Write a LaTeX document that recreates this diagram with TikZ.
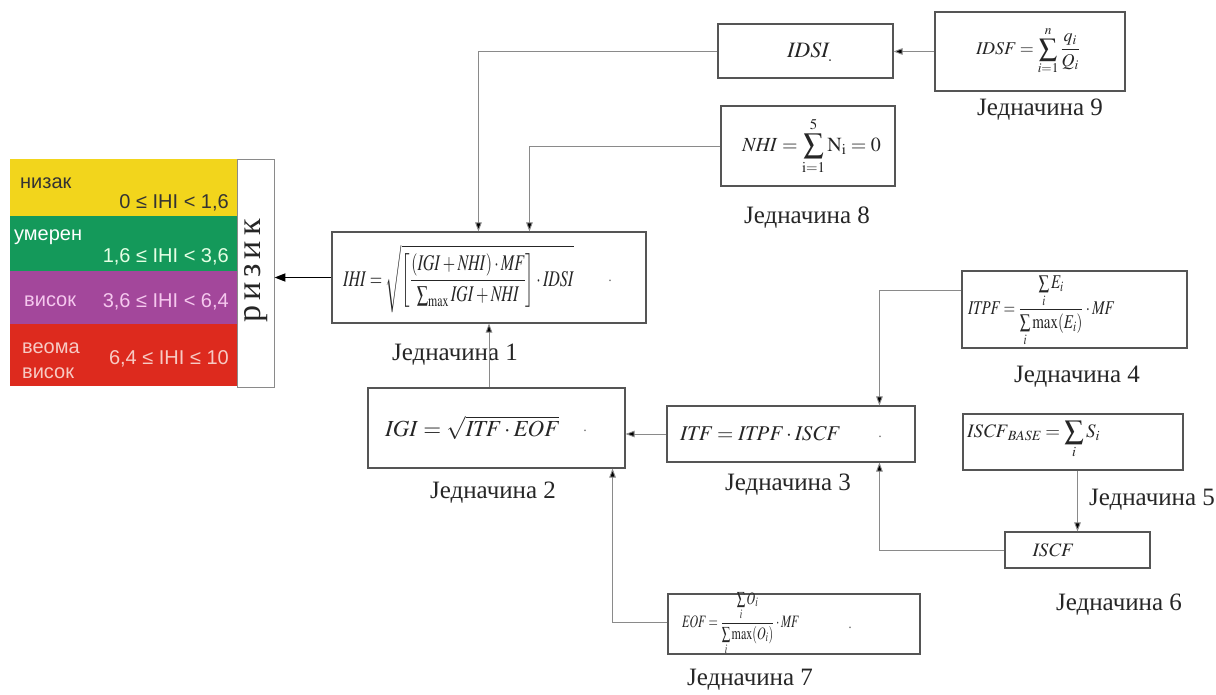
\documentclass[tikz,border=0pt]{standalone}
\usepackage{amsmath}
\usepackage{graphicx}
\usepackage{mathptmx}
\usepackage[no-math]{fontspec}
\setmainfont{Liberation Serif}
\newfontfamily\tabfont{Liberation Sans}
\usetikzlibrary{arrows.meta,calc}

\definecolor{boxgray}{HTML}{555555}
\definecolor{linegray}{HTML}{8A8A8A}
\definecolor{lowyellow}{HTML}{F2D51C}
\definecolor{midgreen}{HTML}{14995A}
\definecolor{highpurple}{HTML}{A3479B}
\definecolor{topred}{HTML}{DD2A1E}
\definecolor{pinktext}{HTML}{F5C8EE}
\definecolor{redtext}{HTML}{F7CAC4}

\newcommand{\fsz}[1]{\fontsize{#1}{#1}\selectfont}
\newcommand{\vn}[1]{\mathit{#1}}
\newcommand{\tall}[2]{\scalebox{1}[#1]{#2}}

\begin{document}
\begin{tikzpicture}[x=1pt,y=-1pt,
  box/.style={draw=boxgray, line width=1.1pt, inner sep=0pt, rectangle},
  conn/.style={draw=linegray, line width=0.9pt, -{Triangle[length=9pt,width=6.5pt,fill=black]}},
  eqlabel/.style={font=\fsz{25}, text=black!85, inner sep=0pt},
  formula/.style={inner sep=0pt, text=black!85},
  tabtext/.style={font=\tabfont\fsz{20}, inner sep=0pt},
  tinydot/.style={font=\fsz{14}, inner sep=0pt, text=black!60}]

\useasboundingbox (0,0) rectangle (1216,695);
\fill[white] (0,0) rectangle (1216,695);

% ---- risk scale ----
\fill[lowyellow]  (10,159) rectangle (237,216);
\fill[midgreen]   (10,216) rectangle (237,271);
\fill[highpurple] (10,271) rectangle (237,324);
\fill[topred]     (10,324) rectangle (237,386);
\node[draw=linegray, line width=0.9pt, fill=white, minimum width=37pt, minimum height=228pt, inner sep=0pt] (risk) at (255.5,273) {};
\node[rotate=90, font=\fsz{34}, inner sep=0pt, text=black!85] (risklabel) at (256,271) {р\hspace{5pt}и\hspace{5pt}з\hspace{5pt}и\hspace{5pt}к};

\node[tabtext, anchor=west, text=black!80] (lowname) at (20,183) {низак};
\node[tabtext, anchor=east, text=black!80] (lowrange) at (229,203) {0 ≤ IHI < 1,6};
\node[tabtext, anchor=west, text=white] (midname) at (14,237) {умерен};
\node[tabtext, anchor=east, text=white!90!green] (midrange) at (229,257) {1,6 ≤ IHI < 3,6};
\node[tabtext, anchor=west, text=pinktext] (highname) at (24,301) {висок};
\node[tabtext, anchor=east, text=pinktext] (highrange) at (229,302) {3,6 ≤ IHI < 6,4};
\node[tabtext, anchor=west, text=redtext] (topname1) at (22,348) {веома};
\node[tabtext, anchor=west, text=redtext] (topname2) at (22,373) {висок};
\node[tabtext, anchor=east, text=redtext] (toprange) at (229,359) {6,4 ≤ IHI ≤ 10};

% ---- boxes ----
\node[box, minimum width=190pt, minimum height=79pt] (idsf) at (1030,51.5) {};
\node[box, minimum width=175pt, minimum height=54pt] (idsi) at (805.5,51) {};
\node[box, minimum width=174pt, minimum height=80pt] (nhi) at (808,146) {};
\node[box, minimum width=314pt, minimum height=91pt] (ihi) at (489,277.5) {};
\node[box, minimum width=257pt, minimum height=80pt] (igi) at (496.5,428) {};
\node[box, minimum width=248pt, minimum height=56pt] (itf) at (791,434) {};
\node[box, minimum width=225pt, minimum height=77pt] (itpf) at (1074.5,309.5) {};
\node[box, minimum width=220pt, minimum height=56pt] (iscfb) at (1073,442) {};
\node[box, minimum width=145pt, minimum height=36pt] (iscf) at (1077.5,550) {};
\node[box, minimum width=252pt, minimum height=60pt] (eof) at (794,624) {};

% ---- formulas ----
\node[formula, font=\fsz{18}, anchor=west] (idsfeq) at (976,51) {$\vn{IDSF}=\displaystyle\sum_{i=1}^{n}\frac{q_i}{Q_i}$};
\node[formula, font=\fsz{22}] (idsieq) at (810,52) {$\vn{IDSI}_{\!.}$};
\node[formula, font=\fsz{20}, anchor=west] (nhieq) at (742,146) {$\vn{NHI}=\displaystyle\sum_{\mathrm{i}=1}^{5}\mathrm{N_i}=0$};
\node[formula, font=\fsz{16}, anchor=west] (ihieq) at (343,279) {\tall{1.4}{$\vn{IHI}=\sqrt{\left[\dfrac{(\vn{IGI}+\vn{NHI})\cdot \vn{MF}}{\textstyle\sum_{\max}\vn{IGI}+\vn{NHI}}\right]\cdot \vn{IDSI}}$}};
\node[tinydot] (ihidot) at (610,281) {.};
\node[formula, font=\fsz{23}, anchor=west] (igieq) at (385,428) {$\vn{IGI}=\sqrt{\vn{ITF}\cdot \vn{EOF}}$};
\node[tinydot] (igidot) at (585,431) {.};
\node[formula, font=\fsz{21}, anchor=west] (itfeq) at (680,434) {$\vn{ITF}=\vn{ITPF}\cdot \vn{ISCF}$};
\node[tinydot] (itfdot) at (880,437) {.};
\node[formula, font=\fsz{15}, anchor=west] (itpfeq) at (968,311) {\tall{1.3}{$\vn{ITPF}=\dfrac{\sum\limits_i E_i}{\sum\limits_i\max(E_i)}\cdot \vn{MF}$}};
\node[formula, font=\fsz{19}, anchor=west] (iscfbeq) at (967,440) {$\vn{ISCF}_{\vn{BASE}}=\displaystyle\sum_i S_i$};
\node[formula, font=\fsz{19}] (iscfeq) at (1053,550) {$\vn{ISCF}$};
\node[formula, font=\fsz{12}, anchor=west] (eofeq) at (682,624) {\tall{1.45}{$\vn{EOF}=\dfrac{\sum\limits_i O_i}{\sum\limits_i\max(O_i)}\cdot \vn{MF}$}};
\node[tinydot] (eofdot) at (850,628) {.};

% ---- equation labels ----
\node[eqlabel] (lab1) at (455,355) {Једначина 1};
\node[eqlabel] (lab2) at (493,493) {Једначина 2};
\node[eqlabel] (lab3) at (788,485) {Једначина 3};
\node[eqlabel] (lab4) at (1077,377) {Једначина 4};
\node[eqlabel] (lab5) at (1152,500) {Једначина 5};
\node[eqlabel] (lab6) at (1119,605) {Једначина 6};
\node[eqlabel] (lab7) at (750,680) {Једначина 7};
\node[eqlabel] (lab8) at (807,218) {Једначина 8};
\node[eqlabel] (lab9) at (1040,110) {Једначина 9};

% ---- connectors ----
\draw[conn] (idsf.west) -- (idsf.west -| idsi.east);
\draw[conn] (idsi.west) -| ($(ihi.north west)+(147,0)$);
\draw[conn] (nhi.west) -| ($(ihi.north west)+(198,0)$);
\draw[draw=black, line width=1.8pt, -{Triangle[length=11pt,width=8pt]}] (ihi.west) -- (ihi.west -| risk.east);
\draw[conn] (igi.north -| ihi.south) -- (ihi.south);
\draw[conn] (itf.west) -- (itf.west -| igi.east);
\draw[conn] ($(itpf.north west)!0.25!(itpf.south west)$) -| ($(itf.north west)+(213,0)$);
\draw[conn] (iscf.west) -| ($(itf.south west)+(213,0)$);
\draw[conn] (iscfb.south -| iscf.north) -- (iscf.north);
\draw[conn] ($(eof.north west)!0.48!(eof.south west)$) -| ($(igi.south east)+(-13,0)$);

\end{tikzpicture}
\end{document}
